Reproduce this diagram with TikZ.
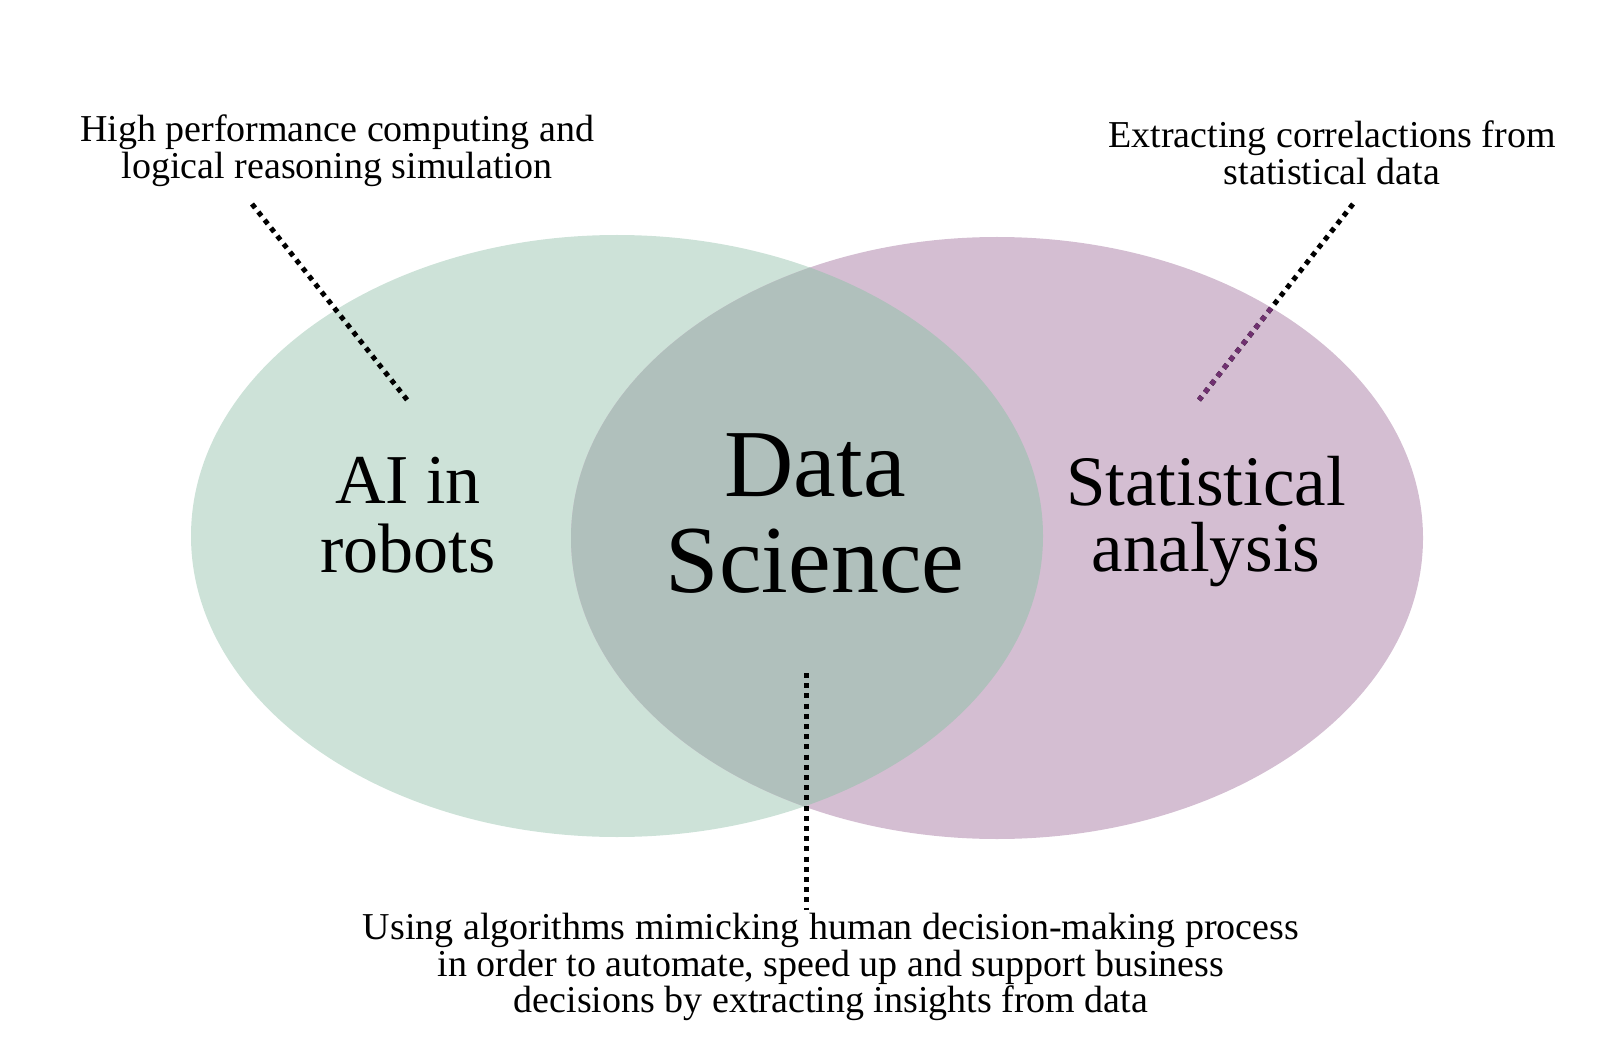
\documentclass[tikz,border=0pt]{standalone}
\usepackage{fontspec}
\setmainfont{Liberation Serif}
\usetikzlibrary{positioning}
\definecolor{aigreen}{RGB}{205,226,216}
\definecolor{statmauve}{RGB}{212,190,210}
\definecolor{dsgrey}{RGB}{176,192,188}
\definecolor{dotpurple}{RGB}{112,48,112}

\begin{document}
\begin{tikzpicture}[x=0.5pt,y=0.5pt,yscale=-1,xscale=1,
  note/.style={align=center,inner sep=0pt,font=\fontsize{19}{18.3}\selectfont},
  dotline/.style={line width=2.5pt,dash pattern=on 2.5pt off 2.6pt}]
\useasboundingbox (0,0) rectangle (1600,1037);

%Shape: Ellipse [left]
\fill [aigreen] (617,536) ellipse [x radius=426,y radius=301];
%Shape: Ellipse [right]
\fill [statmauve] (997,538) ellipse [x radius=426,y radius=301];
%Shape: overlap
\begin{scope}
\clip (617,536) ellipse [x radius=426,y radius=301];
\fill [dsgrey] (997,538) ellipse [x radius=426,y radius=301];
\end{scope}

%Text nodes
\node [note] (hpc) at (337,151) {High performance computing and\\logical reasoning simulation};
\node [note] (corr) at (1332,153) {Extracting correlactions from\\statistical data};
\node [note] (algo) at (831,967) {Using algorithms mimicking human decision-making process\\in order to automate, speed up and support business\\decisions by extracting insights from data};
\node [align=center,inner sep=0pt,font=\fontsize{35}{34.5}\selectfont] (ai) at (408,515) {AI in\\robots};
\node [align=center,inner sep=0pt,font=\fontsize{48}{48}\selectfont] (ds) at (815,514) {Data\\Science};
\node [align=center,inner sep=0pt,font=\fontsize{35.5}{33}\selectfont] (stat) at (1206,522) {Statistical\\analysis};

%Dotted connectors
\coordinate (hpcend) at (252,204);
\coordinate (hpctip) at (408,401);
\coordinate (corrend) at (1353,204);
\coordinate (corrtip) at (1199,400);
\coordinate (dstip) at (806,673);
\coordinate (algoend) at (806,910);
\draw [dotline] (hpcend) -- (hpctip);
\draw [dotline] (corrend) -- (corrtip);
\begin{scope}
\clip (997,538) ellipse [x radius=426,y radius=301];
\draw [dotline,dotpurple] (corrend) -- (corrtip);
\end{scope}
\draw [dotline] (dstip) -- (algoend);

\end{tikzpicture}
\end{document}
